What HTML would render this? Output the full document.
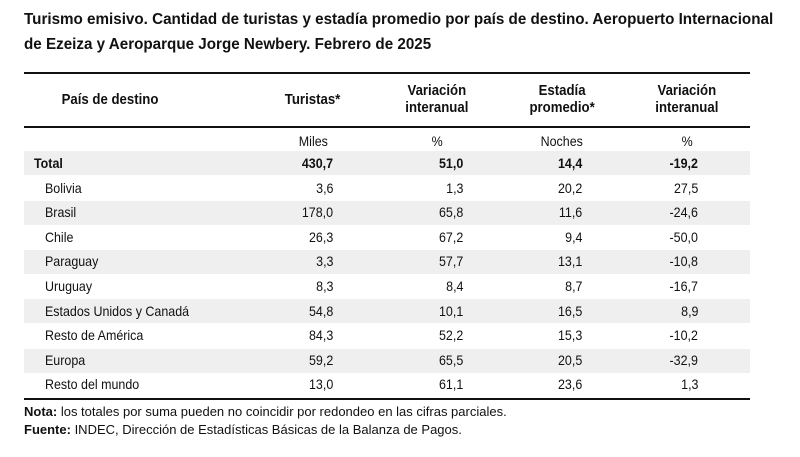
<!DOCTYPE html><html><head><meta charset="utf-8"><style>
body{margin:0;width:800px;height:457px;background:#fff;position:relative;font-family:"Liberation Sans",sans-serif;color:#111;overflow:hidden}
.a{position:absolute;white-space:nowrap;font-size:14px;line-height:16px}
.a span{display:inline-block;transform:scaleX(0.89);transform-origin:left center}
.r span{transform-origin:right center}
.c span,.h span{transform-origin:center center}
.t{font-weight:bold;font-size:16px;left:24px}
.t span{transform:scaleX(0.95)}
.h{font-weight:bold;text-align:center;width:140px;margin-left:-70px;font-size:15px;line-height:17px}
.h span{transform:scaleX(0.88)}
.c{text-align:center;width:100px;margin-left:-50px}
.r{text-align:right;width:100px;margin-left:-100px}
.line{position:absolute;left:24px;width:726px;background:#111}
.sh{position:absolute;left:24px;width:726px;height:24px;background:#efefef}
.b{font-weight:bold}
.n{font-size:13px;left:24px}
.n span{transform:none}
</style></head><body>
<div class="a t" style="top:12px"><span>Turismo emisivo. Cantidad de turistas y estadía promedio por país de destino. Aeropuerto Internacional</span></div>
<div class="a t" style="top:37px"><span>de Ezeiza y Aeroparque Jorge Newbery. Febrero de 2025</span></div>
<div class="line" style="top:72px;height:2px"></div>
<div class="line" style="top:126px;height:2px"></div>
<div class="line" style="top:398px;height:2px"></div>
<div class="a h" style="left:110px;top:91px"><span>País de destino</span></div>
<div class="a h" style="left:313px;top:91px"><span>Turistas*</span></div>
<div class="a h" style="left:437px;top:82px"><span>Variación<br>interanual</span></div>
<div class="a h" style="left:562px;top:82px"><span>Estadía<br>promedio*</span></div>
<div class="a h" style="left:687px;top:82px"><span>Variación<br>interanual</span></div>
<div class="a c" style="left:313px;top:133px"><span>Miles</span></div>
<div class="a c" style="left:437px;top:133px"><span>%</span></div>
<div class="a c" style="left:562px;top:133px"><span>Noches</span></div>
<div class="a c" style="left:687px;top:133px"><span>%</span></div>
<div class="sh" style="top:151px"></div>
<div class="sh" style="top:201px"></div>
<div class="sh" style="top:250px"></div>
<div class="sh" style="top:299px"></div>
<div class="sh" style="top:349px"></div>
<div id="rows"></div>
<script>
var d=[["Total","430,7","51,0","14,4","-19,2"],["Bolivia","3,6","1,3","20,2","27,5"],["Brasil","178,0","65,8","11,6","-24,6"],["Chile","26,3","67,2","9,4","-50,0"],["Paraguay","3,3","57,7","13,1","-10,8"],["Uruguay","8,3","8,4","8,7","-16,7"],["Estados Unidos y Canadá","54,8","10,1","16,5","8,9"],["Resto de América","84,3","52,2","15,3","-10,2"],["Europa","59,2","65,5","20,5","-32,9"],["Resto del mundo","13,0","61,1","23,6","1,3"]];
var xs=[333,463,582,698],h="";
d.forEach(function(r,i){var y=155+i*24.6,b=i==0?" b":"";
h+='<div class="a'+b+'" style="left:'+(i==0?34:45)+'px;top:'+y+'px"><span>'+r[0]+'</span></div>';
for(var j=1;j<5;j++)h+='<div class="a r'+b+'" style="left:'+xs[j-1]+'px;top:'+y+'px"><span>'+r[j]+'</span></div>';});
document.getElementById("rows").innerHTML=h;
</script>
<div class="a n" style="top:404px"><span><b>Nota:</b> los totales por suma pueden no coincidir por redondeo en las cifras parciales.</span></div>
<div class="a n" style="top:422px"><span><b>Fuente:</b> INDEC, Dirección de Estadísticas Básicas de la Balanza de Pagos.</span></div>
</body></html>
